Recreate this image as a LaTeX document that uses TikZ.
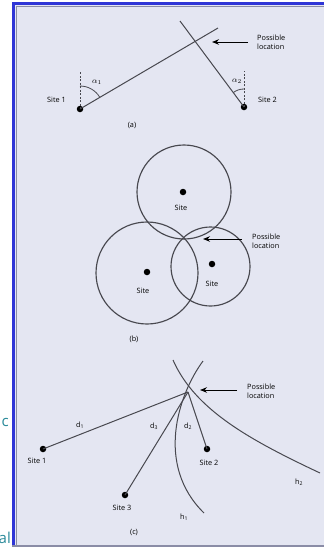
\documentclass[tikz,border=0pt]{standalone}
\usepackage{fontspec}
\setmainfont{Open Sans}
\usetikzlibrary{arrows.meta}
\definecolor{bg}{HTML}{E4E6F2}
\definecolor{frameblue}{HTML}{2F35D6}
\definecolor{framegrey}{HTML}{8A8CA6}
\definecolor{linec}{HTML}{48484F}
\definecolor{teal}{HTML}{2A8A9A}
\begin{document}
\begin{tikzpicture}[x=1pt,y=-1pt,
  lbl/.style={font=\fontsize{7.3}{8.6}\selectfont, inner sep=0pt, text=black},
  greek/.style={font=\fontsize{8.5}{9}\selectfont, inner sep=0pt, text=black},
  dot/.style={circle,fill=black,inner sep=0pt,minimum size=6.5pt},
  ln/.style={draw=linec,line width=1pt},
  ring/.style={draw=linec,line width=1.15pt},
  arr/.style={-{Stealth[length=7pt,width=5.5pt]}, line width=1pt, draw=black},
  guide/.style={draw=linec, line width=0.75pt, dash pattern=on 2pt off 1.5pt},
  page/.style={font=\fontsize{15}{15}\selectfont, text=teal, inner sep=0pt}
]
\useasboundingbox (0,0) rectangle (324,547);
\fill[white] (0,0) rectangle (324,547);
\fill[bg] (12,2) rectangle (324,547);
\draw[framegrey, line width=1.2pt] (16.5,547) -- (16.5,6.8) -- (324,6.8);
\draw[frameblue, line width=3pt] (13.5,547) -- (13.5,3.5) -- (324,3.5);
\draw[framegrey, line width=1.5pt] (12,545.8) -- (324,545.8);
\node[page, anchor=base east] (pc) at (9,426) {c};
\node[page, anchor=base east] (pal) at (11,543) {al};

% ---------- (a) ----------
\node[dot] (s1) at (80,109) {};
\node[dot] (s2) at (244,107) {};
\coordinate (a1end) at (218,28);
\coordinate (a2end) at (180,21);
\coordinate (v1) at (80,71);
\coordinate (v2) at (244,71);
\draw[ln] (s1.center) -- (a1end);
\draw[ln] (s2.center) -- (a2end);
\draw[guide] (s1.center) -- (v1);
\draw[guide] (s2.center) -- (v2);
\draw[ln, line width=0.8pt] (s1.center) ++(0,-23) arc[start angle=90, end angle=30.4, radius=23pt];
\draw[ln, line width=0.8pt] (s2.center) ++(0,-18) arc[start angle=90, end angle=126.7, radius=18pt];
\node[greek] (al1) at (97,82) {$\alpha_1$};
\node[greek] (al2) at (237,81) {$\alpha_2$};
\node[lbl, anchor=east] (ls1) at (66,100) {Site 1};
\node[lbl, anchor=west] (ls2) at (258,100) {Site 2};
\coordinate (aa1) at (248,42);
\coordinate (aa2) at (212,42);
\draw[arr] (aa1) -- (aa2);
\node[lbl, anchor=west, align=left] (pla) at (257,42) {Possible\\location};
\node[lbl] (capa) at (132,125) {(a)};

% ---------- (b) ----------
\draw[ring] (184,192) circle[radius=47pt];
\draw[ring] (147,273) circle[radius=51pt];
\draw[ring] (210.5,266.5) circle[radius=39.5pt];
\node[dot] (b1) at (183,192) {};
\node[dot] (b2) at (147,272) {};
\node[dot] (b3) at (212,264) {};
\node[lbl] (lb1) at (181,208) {Site};
\node[lbl] (lb2) at (143,291) {Site};
\node[lbl] (lb3) at (212,284) {Site};
\coordinate (ba1) at (242,239);
\coordinate (ba2) at (203,239);
\draw[arr] (ba1) -- (ba2);
\node[lbl, anchor=west, align=left] (plb) at (252,241) {Possible\\location};
\node[lbl] (capb) at (134,339) {(b)};

% ---------- (c) ----------
\coordinate (p) at (188,392);
\node[dot] (c1) at (43,449) {};
\node[dot] (c2) at (207,449) {};
\node[dot] (c3) at (125,495) {};
\draw[ln] (c1.center) -- (p);
\draw[ln] (c2.center) -- (p);
\draw[ln] (c3.center) -- (p);
\draw[ln] (203,361) .. controls (178,395) and (155,465) .. (204,513);
\draw[ln] (173,360) .. controls (195,410) and (250,440) .. (320,473);
\node[lbl] (lc1) at (37,461) {Site 1};
\node[lbl] (lc2) at (209,463) {Site 2};
\node[lbl] (lc3) at (122,508) {Site 3};
\node[lbl] (d1) at (80,425) {d\textsubscript{1}};
\node[lbl] (d3) at (154,426) {d\textsubscript{3}};
\node[lbl] (d2) at (188,426) {d\textsubscript{2}};
\node[lbl] (h1) at (184,517) {h\textsubscript{1}};
\node[lbl] (h2) at (299,482) {h\textsubscript{2}};
\coordinate (ca1) at (237,390);
\coordinate (ca2) at (200,390);
\draw[arr] (ca1) -- (ca2);
\node[lbl, anchor=west, align=left] (plc) at (247,391) {Possible\\location};
\node[lbl] (capc) at (134,532) {(c)};
\end{tikzpicture}
\end{document}
